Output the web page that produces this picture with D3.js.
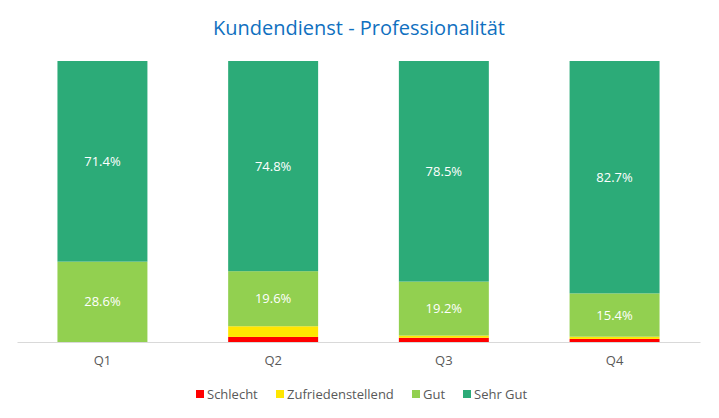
<!DOCTYPE html>
<html>
<head>
<meta charset="utf-8">
<script src="https://cdn.jsdelivr.net/npm/d3@7"></script>
<style>
  body { margin: 0; background: #fff; }
  svg { display: block; font-family: 'Open Sans', 'Noto Sans', sans-serif; }
</style>
</head>
<body>
<svg id="chart"></svg>
<script>
const categories = ['Q1', 'Q2', 'Q3', 'Q4']
const seriesNames = ['Schlecht', 'Zufriedenstellend', 'Gut', 'Sehr Gut']
const schlecht = [0, 1.8, 1.5, 1.1]
const zufrieden = [0, 3.8, 0.8, 0.8]
const gut = [28.6, 19.6, 19.2, 15.4]
const sehrGut = [71.4, 74.8, 78.5, 82.7]
const colors = ['#ff0000', '#ffe600', '#92d050', '#2cab78']

const width = 719
const height = 418

// Tabelle für d3.stack
const table = categories.map((c, i) => ({
  cat: c,
  Schlecht: schlecht[i],
  Zufriedenstellend: zufrieden[i],
  Gut: gut[i],
  'Sehr Gut': sehrGut[i],
}))

const svg = d3.select('#chart')
  .attr('width', width)
  .attr('height', height)

const x = d3.scaleBand()
  .domain(categories)
  .range([17, 700])
  .paddingInner(0.473)
  .paddingOuter(0.237)

const y = d3.scaleLinear()
  .domain([0, 100])
  .range([342, 61])

const color = d3.scaleOrdinal().domain(seriesNames).range(colors)

const layers = d3.stack().keys(seriesNames)(table)

// Titel
svg.append('text')
  .attr('x', 359)
  .attr('y', 35)
  .attr('text-anchor', 'middle')
  .attr('fill', '#1070c0')
  .style('font-size', '20px')
  .text('Kundendienst - Professionalität')

// Balken
const g = svg.selectAll('.layer')
  .data(layers)
  .enter()
  .append('g')
  .attr('class', 'layer')
  .attr('fill', d => color(d.key))

g.selectAll('rect')
  .data(d => d)
  .enter()
  .append('rect')
  .attr('x', d => x(d.data.cat))
  .attr('y', d => y(d[1]))
  .attr('width', x.bandwidth())
  .attr('height', d => y(d[0]) - y(d[1]))

// Datenbeschriftungen (nur große Segmente)
g.selectAll('text')
  .data(d => d.filter(s => s[1] - s[0] > 5))
  .enter()
  .append('text')
  .attr('x', d => x(d.data.cat) + x.bandwidth() / 2)
  .attr('y', d => (y(d[0]) + y(d[1])) / 2)
  .attr('dy', '0.35em')
  .attr('text-anchor', 'middle')
  .attr('fill', '#fff')
  .style('font-size', '13px')
  .text(d => `${(d[1] - d[0]).toFixed(1)}%`)

// x-Achse
const xAxis = svg.append('g')
  .attr('transform', `translate(0,${y(0)})`)
  .call(d3.axisBottom(x).tickSize(0).tickPadding(14))
xAxis.select('.domain').attr('stroke', '#d9d9d9')
xAxis.selectAll('text')
  .attr('fill', '#595959')
  .style('font-size', '13px')
  .style('font-family', "'Open Sans', 'Noto Sans', sans-serif")

// Legende
const legendX = [196, 276, 412, 463]
const legend = svg.selectAll('.legend')
  .data(seriesNames)
  .enter()
  .append('g')
  .attr('class', 'legend')
  .attr('transform', (d, i) => `translate(${legendX[i]},394)`)

legend.append('rect')
  .attr('x', 0)
  .attr('y', -4)
  .attr('width', 8)
  .attr('height', 8)
  .attr('fill', d => color(d))

legend.append('text')
  .attr('x', 11)
  .attr('dy', '0.35em')
  .attr('fill', '#595959')
  .style('font-size', '13px')
  .text(d => d)
</script>
</body>
</html>
